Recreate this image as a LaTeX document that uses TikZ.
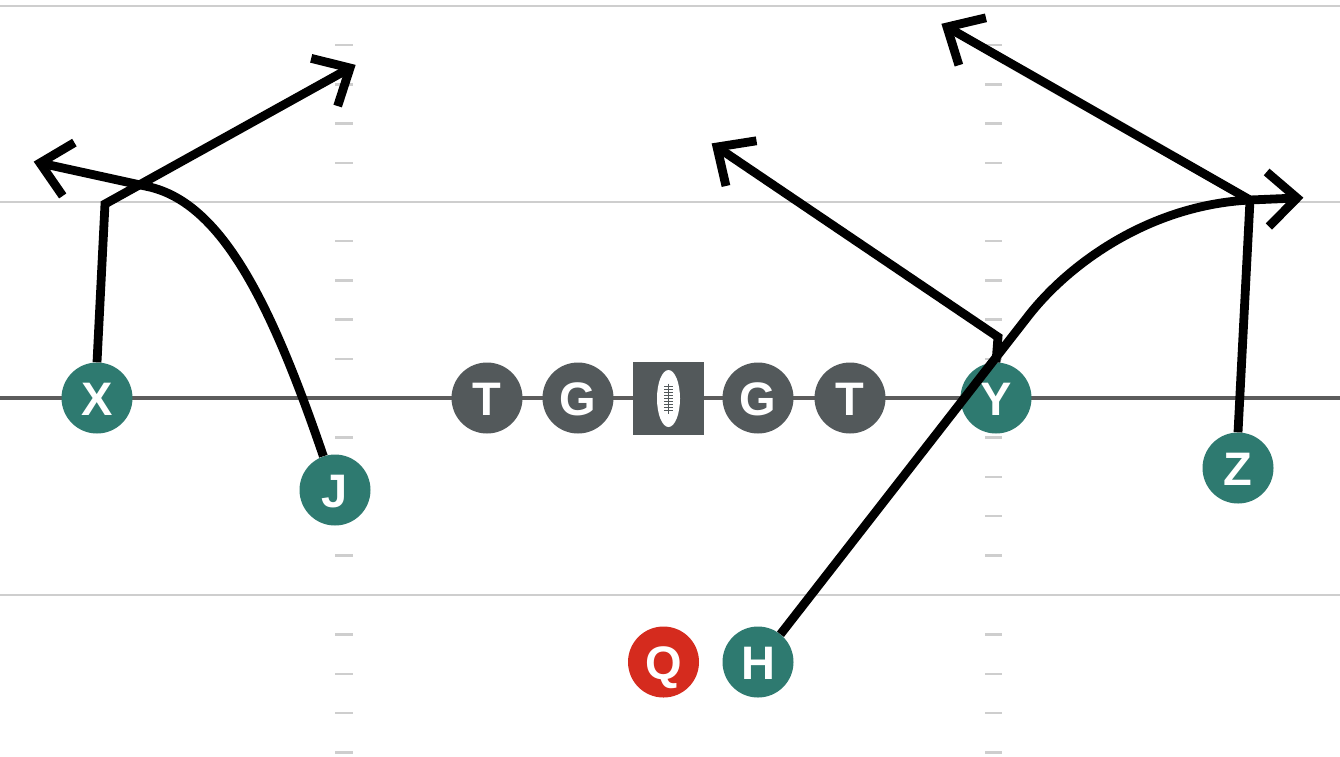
\documentclass[tikz,border=0pt]{standalone}
\usepackage{fontspec}
\setsansfont{Liberation Sans}
\usetikzlibrary{calc}
\definecolor{offteal}{RGB}{46,122,112}
\definecolor{lineman}{RGB}{83,89,91}
\definecolor{qbred}{RGB}{213,43,30}
\definecolor{yardgrey}{RGB}{206,206,206}
\definecolor{losgrey}{RGB}{92,92,92}
\newcommand\routebarb[2]{\draw[route] ($(#1)!40pt!43:(#2)$) -- (#1) -- ($(#1)!40pt!-43:(#2)$);}
\begin{document}
\begin{tikzpicture}[x=1pt,y=-1pt,
  player/.style={circle, minimum size=71pt, inner sep=0pt, text=white,
    font=\fontsize{47}{47}\selectfont\sffamily\bfseries, text height=34pt, text depth=0pt},
  offense/.style={player, fill=offteal},
  oline/.style={player, fill=lineman},
  qb/.style={player, fill=qbred},
  ballbox/.style={rectangle, fill=lineman, minimum width=71pt, minimum height=73pt, inner sep=0pt},
  yard/.style={draw=yardgrey, line width=2.5pt},
  los/.style={draw=losgrey, line width=4.5pt},
  hash/.style={draw=yardgrey, line width=2.5pt},
  route/.style={draw=black, line width=8.8pt, line join=miter}]
\fill[white] (0,0) rectangle (1340,756);
\useasboundingbox (0,0) rectangle (1340,756);
% yard lines
\foreach \yy in {6,202,595}{\draw[yard] (0,\yy) -- (1340,\yy);}
% hash marks
\foreach \yy in {45.2,84.4,123.6,162.8,241.2,280.4,319.6,358.8,437.4,476.8,516.2,555.6,634.4,673.8,713.2,752.6}{
  \draw[hash] (335,\yy) -- (353,\yy);
  \draw[hash] (985,\yy) -- (1002,\yy);
}
% line of scrimmage
\draw[los] (0,398) -- (1340,398);
% players
\node[offense] (X) at (97,398) {X};
\node[offense] (J) at (335,490) {J};
\node[oline] (T1) at (487,398) {T};
\node[oline] (G1) at (578,398) {G};
\node[ballbox] (C) at (668.5,398.5) {};
\node[oline] (G2) at (758,398) {G};
\node[oline] (T2) at (850,398) {T};
\node[offense] (Y) at (996,398) {Y};
\node[offense] (Z) at (1238,468) {Z};
\node[qb] (Q) at (663.5,662) {Q};
\node[offense] (H) at (758,662) {H};
% football
\fill[white] (C) ellipse [x radius=11.5pt, y radius=28.5pt];
\draw[lineman, line width=1.4pt] ($(C)+(0,-15)$) -- ($(C)+(0,15)$);
\foreach \k in {-12,-9,...,12}{\draw[lineman, line width=1.1pt] ($(C)+(-4.5,\k)$) -- ($(C)+(4.5,\k)$);}
% route points
\coordinate (xb) at (105,204);
\coordinate (xt) at (350,68);
\coordinate (jm) at (145,186);
\coordinate (jt) at (40,163);
\coordinate (yb) at (998,337);
\coordinate (yt) at (717,147);
\coordinate (zb) at (1250,200);
\coordinate (zt) at (947,27);
\coordinate (hm) at (1029,315);
\coordinate (ht) at (1297,198);
% routes
\draw[route] (X.north) -- (xb) -- (xt);
\routebarb{xt}{xb}
\draw[route] (J.109) .. controls (270,300) and (220,200) .. (jm) -- (jt);
\routebarb{jt}{jm}
\draw[route] (Y.north) -- (yb) -- (yt);
\routebarb{yt}{yb}
\draw[route] (Z.north) -- (zb) -- (zt);
\routebarb{zt}{zb}
\draw[route] (H.51) -- (hm) .. controls (1070,263) and (1150,205) .. (zb) -- (ht);
\routebarb{ht}{zb}
\end{tikzpicture}
\end{document}
